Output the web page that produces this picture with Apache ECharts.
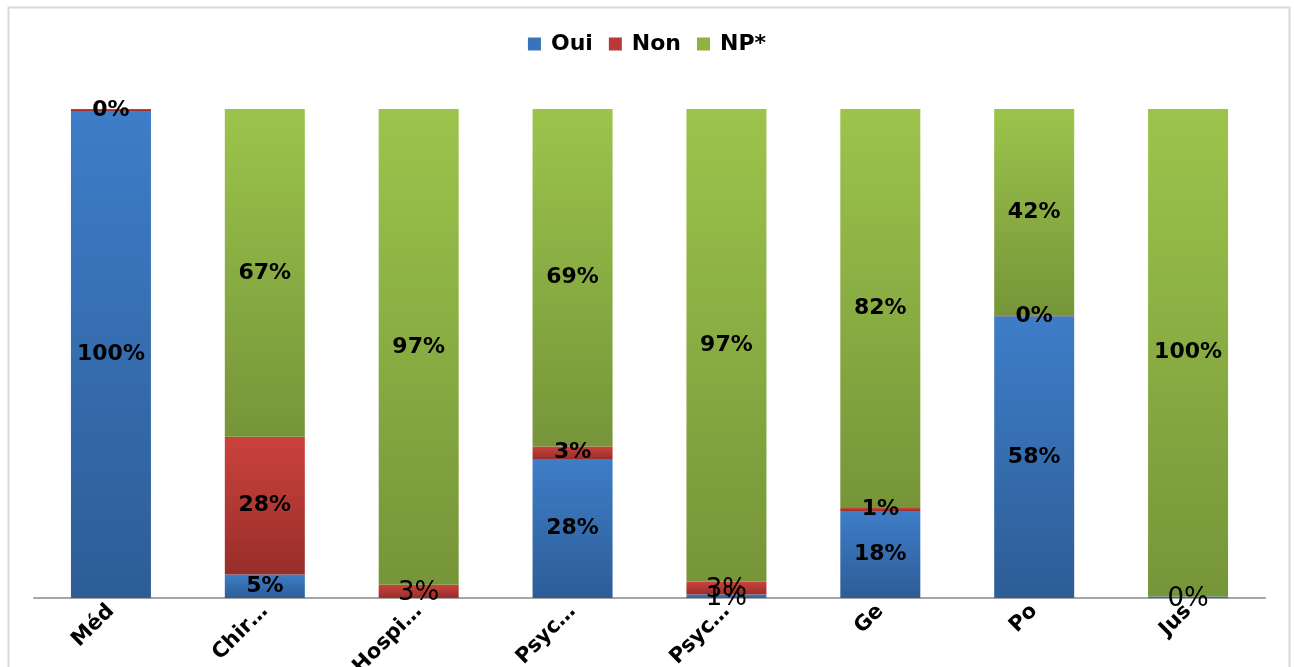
<!DOCTYPE html>
<html>
<head>
<meta charset="utf-8">
<script src="https://cdn.jsdelivr.net/npm/echarts@6/dist/echarts.min.js"></script>
<style>
  html, body { margin: 0; padding: 0; background: #fff; }
  #myChart { width: 1294px; height: 667px; }
</style>
</head>
<body>
<div id="myChart"></div>
<script>
// categories (truncated as in the original)
var categories = ['Méd', 'Chir…', 'Hospi…', 'Psyc…', 'Psyc…', 'Ge', 'Po', 'Jus'];
// share of each answer, in %
var oui = [99.6, 4.8, 0, 28.4, 0.7, 17.8, 57.6, 0.3];
var non = [0.4, 28.2, 2.7, 2.6, 2.6, 0.6, 0.2, 0];
var np = [0, 67.0, 97.3, 69.0, 96.7, 81.6, 42.2, 99.7];

// labels Excel drew in plain, larger text: [series, category index]
var plainLabels = [['Non', 2], ['Oui', 4], ['Non', 4], ['Oui', 7]];

function grad(top, bottom) {
  return new echarts.graphic.LinearGradient(0, 0, 0, 1, [
    { offset: 0, color: top },
    { offset: 1, color: bottom }
  ]);
}

function buildData(name, values) {
  return values.map(function (v, i) {
    var item = { value: v };
    if (v === 0) {
      item.label = { show: false };
    }
    plainLabels.forEach(function (p) {
      if (p[0] === name && p[1] === i) {
        item.label = { fontWeight: 'normal', fontSize: 26, offset: [0, 2] };
      }
    });
    return item;
  });
}

var colors = {
  Oui: ['#3e7dc8', '#2d5d96'],
  Non: ['#cb423c', '#982e2b'],
  'NP*': ['#9cc44c', '#769539']
};

function makeSeries(name, values) {
  return {
    name: name,
    type: 'bar',
    stack: 'total',
    barWidth: 80,
    itemStyle: { color: grad(colors[name][0], colors[name][1]) },
    label: {
      show: true,
      position: 'inside',
      color: '#000',
      fontFamily: 'DejaVu Sans',
      fontWeight: 'bold',
      fontSize: 22,
      formatter: function (p) { return Math.round(p.value) + '%'; }
    },
    data: buildData(name, values)
  };
}

var myChart = echarts.init(document.getElementById('myChart'));
myChart.setOption({
  animation: false,
  backgroundColor: '#fff',
  legend: {
    top: 28,
    left: 'center',
    itemWidth: 13,
    itemHeight: 13,
    itemGap: 16,
    icon: 'rect',
    textStyle: {
      fontFamily: 'DejaVu Sans', fontWeight: 'bold', fontSize: 22, color: '#000',
      padding: [0, 0, 0, 5]
    },
    data: [
      { name: 'Oui', itemStyle: { color: '#3a74b8' } },
      { name: 'Non', itemStyle: { color: '#b9393a' } },
      { name: 'NP*', itemStyle: { color: '#8db341' } }
    ]
  },
  grid: { left: 34, right: 29, top: 109, bottom: 69, outerBoundsMode: 'none' },
  xAxis: {
    type: 'category',
    data: categories,
    axisLine: { lineStyle: { color: '#a6a6a6', width: 2 } },
    axisTick: { show: false },
    axisLabel: {
      interval: 0,
      rotate: 45,
      margin: 10,
      color: '#000',
      fontFamily: 'DejaVu Sans',
      fontWeight: 'bold',
      fontSize: 21
    }
  },
  yAxis: {
    type: 'value',
    min: 0,
    max: 100,
    show: false
  },
  graphic: [{
    type: 'rect',
    shape: { x: 8.5, y: 7.5, width: 1281, height: 700 },
    style: { fill: null, stroke: '#d9d9d9', lineWidth: 2 },
    silent: true
  }],
  series: [
    makeSeries('Oui', oui),
    makeSeries('Non', non),
    makeSeries('NP*', np)
  ]
});
</script>
</body>
</html>
